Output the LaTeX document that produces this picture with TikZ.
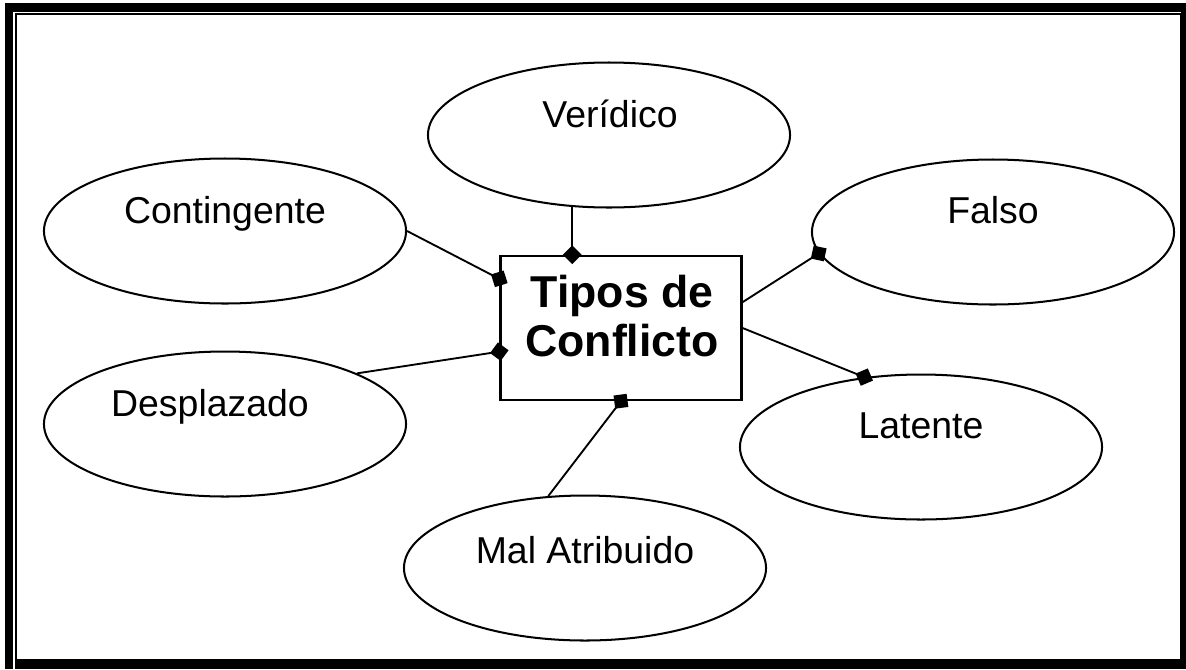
\documentclass[tikz,border=0pt]{standalone}
\usepackage{fontspec}
\setmainfont{Liberation Sans}
\usepackage{tikz}
\usetikzlibrary{arrows.meta}
\usetikzlibrary{shapes}
\usetikzlibrary{positioning}

\begin{document}
\begin{tikzpicture}[x=0.0122cm, y=-0.0122cm]
            \tikzset{every node/.style={font=\fontsize{13}{15}\selectfont},
                    tipo/.style={draw, ellipse, line width=0.7pt, inner sep=0pt,
                                 minimum width=4.42cm, minimum height=1.77cm},
                    >={Diamond[length=6.5pt, width=6.5pt, black]},
                    every edge/.style={draw=black, line width=0.65pt, shorten >=-3.2pt}}
            \useasboundingbox (0,0) rectangle (1186,669);
            % marco
            \fill (5,3) rectangle (13,669);
            \fill (5,3) rectangle (1186,12);
            \fill (1181,12) rectangle (1186,669);
            \fill (15,660) rectangle (1186,669);
            \draw[line width=0.7pt] (16,14) rectangle (1181,660);
            % centro
            \node[draw, line width=0.8pt, minimum width=2.94cm, minimum height=1.757cm] (box) at (621,328) {};
            \node[font=\bfseries\fontsize{15.5}{16.8}\selectfont, align=center] (tit) at (622,316) {Tipos de\\Conflicto};
            % tipos
            \node[tipo] (ver) at (609,135) {};
            \node[tipo] (cont) at (225,231) {};
            \node[tipo] (fal) at (993,232) {};
            \node[tipo] (desp) at (225,424) {};
            \node[tipo] (lat) at (921,447) {};
            \node[tipo] (mal) at (585,568) {};
            \node[anchor=base] (ver-t) at (610,127) {Verídico};
            \node[anchor=base] (cont-t) at (225,223) {Contingente};
            \node[anchor=base] (fal-t) at (993,223) {Falso};
            \node[anchor=base] (desp-t) at (210,416) {Desplazado};
            \node[anchor=base] (lat-t) at (921,438) {Latente};
            \node[anchor=base] (mal-t) at (585,563) {Mal Atribuido};
            % conectores
            \path [->] (ver.243) edge (ver.243 |- box.north);
            \path [->] (cont.east) edge (box.158);
            \path [->] (desp.21) edge (box.191);
            \path [->] (mal.117) edge (box.south);
            \path [->] (box.12) edge (fal.187);
            \path [->] (box.east) edge (lat.129);
        \end{tikzpicture}
\end{document}
